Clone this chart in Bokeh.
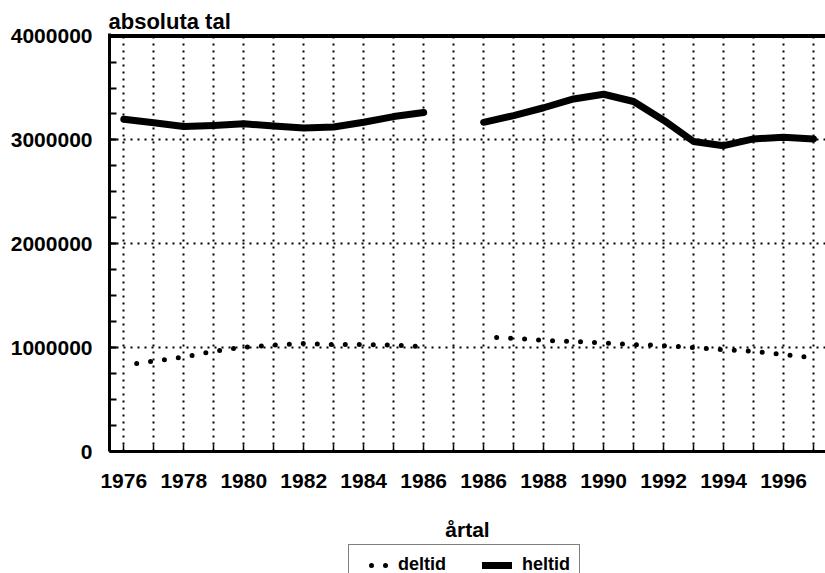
from bokeh.plotting import figure
from bokeh.models import FixedTicker, LinearAxis, Legend, LegendItem, Title, Range1d, Grid, Span, Label
from bokeh.layouts import column
from bokeh.embed import file_html
from bokeh.resources import INLINE

# ---- data ----
years_a = [1976, 1977, 1978, 1979, 1980, 1981, 1982, 1983, 1984, 1985, 1986]
years_b = [1986, 1987, 1988, 1989, 1990, 1991, 1992, 1993, 1994, 1995, 1996, 1997]
heltid_a = [3200000, 3165000, 3130000, 3140000, 3155000, 3135000, 3115000, 3125000, 3170000, 3225000, 3265000]
heltid_b = [3170000, 3235000, 3310000, 3395000, 3440000, 3370000, 3190000, 2985000, 2945000, 3010000, 3025000, 3010000]
deltid_a = [830000, 870000, 910000, 965000, 1005000, 1025000, 1040000, 1030000, 1030000, 1025000, 1010000]
deltid_b = [1105000, 1090000, 1070000, 1060000, 1045000, 1030000, 1020000, 1000000, 980000, 965000, 935000, 900000]
y_ticks = [0, 1000000, 2000000, 3000000, 4000000]

# positions: two segments separated by one empty slot
pos_a = list(range(len(years_a)))
pos_b = list(range(len(years_a) + 1, len(years_a) + 1 + len(years_b)))
all_pos = pos_a + [len(years_a)] + pos_b
all_years = [str(y) for y in years_a] + [""] + [str(y) for y in years_b]
major_x = [p for p, y in zip(all_pos, all_years) if y and (p - (0 if p < len(years_a) else len(years_a) + 1)) % 2 == 0]
minor_x = [p for p in all_pos if p not in major_x]
x_labels = {p: all_years[p] for p in major_x}

FONT = "Liberation Sans"
FS = "21px"

p = figure(width=825, height=510, output_backend="svg", toolbar_location=None,
           x_range=Range1d(-0.477, 23.40), y_range=Range1d(0, 4025000),
           min_border_left=109, min_border_right=0, min_border_top=33, min_border_bottom=59)
p.xaxis.visible = False
p.yaxis.visible = False
p.xgrid.visible = False
p.ygrid.visible = False
p.outline_line_color = None

# left axis
yax = LinearAxis(ticker=FixedTicker(ticks=y_ticks, minor_ticks=list(range(0, 4000001, 250000))))
yax.major_label_overrides = {v: str(v) for v in y_ticks}
yax.axis_line_width = 3
yax.major_tick_in = 7
yax.major_tick_out = 0
yax.minor_tick_in = 7
yax.minor_tick_out = 0
yax.major_tick_line_width = 2
yax.minor_tick_line_width = 2
yax.major_label_text_font = FONT
yax.major_label_text_font_style = "bold"
yax.major_label_text_font_size = FS
yax.major_label_text_color = "black"
yax.major_label_standoff = 17
p.add_layout(yax, "left")

# bottom axis
xax = LinearAxis(ticker=FixedTicker(ticks=major_x, minor_ticks=minor_x))
xax.major_label_overrides = x_labels
xax.axis_line_width = 3
xax.major_tick_in = 7
xax.major_tick_out = 0
xax.minor_tick_in = 7
xax.minor_tick_out = 0
xax.major_tick_line_width = 1.5
xax.minor_tick_line_width = 1.5
xax.major_label_text_font = FONT
xax.major_label_text_font_style = "bold"
xax.major_label_text_font_size = FS
xax.major_label_text_color = "black"
xax.major_label_standoff = 22
p.add_layout(xax, "below")

title = Title(text="absoluta tal", align="left", text_font=FONT, text_font_style="bold",
              text_font_size="22px", text_color="black", offset=-1, standoff=0)
p.add_layout(title, "above")

# top border
p.add_layout(Span(location=y_ticks[-1], dimension="width", line_color="black", line_width=4))

# grids
vg = Grid(dimension=0, ticker=FixedTicker(ticks=all_pos))
vg.grid_line_color = "black"
vg.grid_line_width = 2
vg.grid_line_dash = "2 5"
p.add_layout(vg)
hg = Grid(dimension=1, ticker=FixedTicker(ticks=y_ticks[1:-1]))
hg.grid_line_color = "black"
hg.grid_line_width = 2
hg.grid_line_dash = "2 5"
p.add_layout(hg)

# series
p.line(pos_a, heltid_a, line_color="black", line_width=7, line_cap="round", line_join="round")
p.line(pos_b, heltid_b, line_color="black", line_width=7, line_cap="round", line_join="round")
p.line(pos_a, deltid_a, line_color="black", line_width=5, line_cap="round", line_dash="0 14", line_dash_offset=1)
p.line(pos_b, deltid_b, line_color="black", line_width=5, line_cap="round", line_dash="0 14", line_dash_offset=1)

# strip underneath: x-axis title and legend (series drawn out of view, only the legend shows)
q = figure(width=825, height=63, output_backend="svg", toolbar_location=None,
           x_range=Range1d(0, 1), y_range=Range1d(0, 1),
           x_axis_location=None, y_axis_location=None,
           min_border_left=109, min_border_right=0, min_border_top=0, min_border_bottom=0)
q.outline_line_color = None
q.xgrid.visible = False
q.ygrid.visible = False
q.add_layout(Label(x=0.5, y=44, x_units="data", y_units="screen", text="årtal",
                   text_align="center", text_baseline="alphabetic", text_font=FONT,
                   text_font_style="bold", text_font_size=FS, text_color="black"))
ld = q.line(pos_a, deltid_a, line_color="black", line_width=5, line_cap="round", line_dash="0 14", line_dash_offset=1)
lh = q.line(pos_a, heltid_a, line_color="black", line_width=7, line_cap="round")
legend = Legend(items=[LegendItem(label="deltid", renderers=[ld]), LegendItem(label="heltid", renderers=[lh])],
                orientation="horizontal", location=(239, -12),
                label_text_font=FONT, label_text_font_style="bold", label_text_font_size="18px",
                label_text_color="black", border_line_color="black", border_line_width=1,
                padding=9, spacing=36, glyph_width=30, label_standoff=10, margin=0)
q.add_layout(legend, "center")

open("out.html", "w").write(file_html(column(p, q, spacing=0), INLINE))
